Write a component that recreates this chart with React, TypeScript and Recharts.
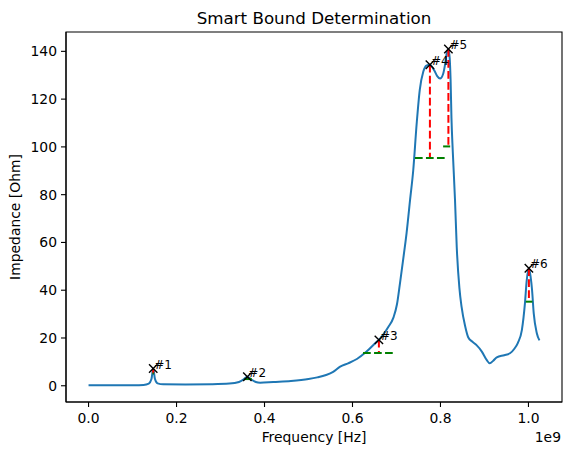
import {
  ComposedChart,
  Line,
  Scatter,
  XAxis,
  YAxis,
  ReferenceLine,
  ReferenceArea,
} from 'recharts'

const FONT = '"DejaVu Sans", sans-serif'

// frequency in units of 1e9 Hz
const freqGHz = [
  0, 0.05, 0.1, 0.125, 0.137, 0.143, 0.147, 0.151, 0.157, 0.17, 0.22, 0.28, 0.32, 0.342, 0.352, 0.361,
  0.37, 0.38, 0.39, 0.42, 0.46, 0.5, 0.52, 0.54, 0.556, 0.572, 0.59, 0.61, 0.632, 0.655, 0.66, 0.669,
  0.681, 0.693, 0.701, 0.708, 0.715, 0.723, 0.731, 0.738, 0.746, 0.753, 0.761, 0.768, 0.776, 0.786,
  0.793, 0.799, 0.806, 0.81, 0.814, 0.818, 0.821, 0.823, 0.825, 0.828, 0.833, 0.837, 0.843, 0.848,
  0.856, 0.863, 0.872, 0.882, 0.894, 0.905, 0.912, 0.92, 0.928, 0.945, 0.958, 0.968, 0.976, 0.985,
  0.992, 0.996, 1.001, 1.005, 1.008, 1.012, 1.019, 1.025,
]
const impedanceOhm = [
  0.2, 0.2, 0.25, 0.35, 0.9, 2.8, 7.2, 2.8, 1.0, 0.6, 0.55, 0.65, 0.9, 1.6, 2.6, 3.8,
  2.6, 1.6, 1.3, 1.6, 2.0, 2.8, 3.5, 4.5, 5.8, 8.0, 9.4, 11.2, 14.3, 18.4, 19.2, 21.2,
  24.5, 28.5, 34, 43, 52.6, 64, 78, 90, 110, 124, 131.6, 134.0, 134.4, 132,
  129.5, 128.6, 130.5, 134, 139, 141, 137, 128, 112, 98, 78, 58, 41, 33,
  25, 20.3, 18.5, 17, 14.3, 10.8, 9.4, 10.5, 11.9, 12.8, 13.6, 15.5, 18, 23.3,
  34.5, 44, 49.2, 45.5, 40.5, 30.3, 22, 19,
]

// detected peaks and their bounds
const peakNames = ['#1', '#2', '#3', '#4', '#5', '#6']
const peakFreq = [0.147, 0.361, 0.66, 0.776, 0.818, 1.001]
const peakImpedance = [7.2, 3.8, 19.2, 134.4, 141.0, 49.2]
const boundLevel = [5.1, 2.8, 13.7, 95.3, 100.2, 35.2]
const boundLow = [0.1455, 0.354, 0.624, 0.742, 0.806, 0.994]
const boundHigh = [0.1485, 0.371, 0.692, 0.81, 0.822, 1.009]

const xTicks = [0, 0.2, 0.4, 0.6, 0.8, 1.0]
const yTicks = [0, 20, 40, 60, 80, 100, 120, 140]
const xDomain: [number, number] = [-0.05125, 1.07625]
const yDomain: [number, number] = [-6.8, 148.1]

const curve = freqGHz.map((f, i) => ({ f, v: impedanceOhm[i] }))
const peaks = peakFreq.map((f, i) => ({ f, v: peakImpedance[i], name: peakNames[i] }))

const tickStyle = { fill: '#000', fontSize: 13.9, fontFamily: FONT }

function PeakMarker(props: any) {
  const { cx, cy, payload } = props
  const r = 4.2
  return (
    <g>
      <path
        d={`M${cx - r},${cy - r}L${cx + r},${cy + r}M${cx - r},${cy + r}L${cx + r},${cy - r}`}
        stroke="#000"
        strokeWidth={1.4}
        fill="none"
      />
      <text x={cx + 1} y={cy} fontSize={12} fontFamily={FONT} fill="#000">
        {payload.name}
      </text>
    </g>
  )
}

// title sits above the plot frame
function TitleLabel({ viewBox }: any) {
  return (
    <text x={viewBox.x + viewBox.width / 2} y={viewBox.y - 8} textAnchor="middle" fontSize={16.7} fontFamily={FONT} fill="#000">
      Smart Bound Determination
    </text>
  )
}

function XLabel({ viewBox }: any) {
  return (
    <g fontFamily={FONT} fontSize={13.9} fill="#000">
      <text x={viewBox.x + viewBox.width / 2} y={viewBox.y + 40} textAnchor="middle">
        Frequency [Hz]
      </text>
      <text x={viewBox.x + viewBox.width - 1} y={viewBox.y + 40} textAnchor="end">
        1e9
      </text>
    </g>
  )
}

function YLabel({ viewBox }: any) {
  const x = 20
  const y = viewBox.y + viewBox.height / 2
  return (
    <text x={x} y={y} transform={`rotate(-90, ${x}, ${y})`} textAnchor="middle" fontSize={13.9} fontFamily={FONT} fill="#000">
      Impedance [Ohm]
    </text>
  )
}

export default function App() {
  return (
    <div style={{ position: 'absolute', left: 0, top: 0, background: '#fff' }}>
      <ComposedChart width={571} height={455} margin={{ top: 32, right: 9, bottom: 0, left: 0 }}>
        <XAxis
          dataKey="f"
          type="number"
          domain={xDomain}
          allowDataOverflow
          ticks={xTicks}
          tickFormatter={(v: number) => v.toFixed(1)}
          tick={tickStyle}
          tickSize={5}
          tickMargin={6}
          height={53}
          axisLine={{ stroke: '#000', strokeWidth: 1.1 }}
          tickLine={{ stroke: '#000', strokeWidth: 1.1 }}
          label={<XLabel />}
        />
        <YAxis
          type="number"
          domain={yDomain}
          allowDataOverflow
          ticks={yTicks}
          tick={tickStyle}
          tickSize={5}
          tickMargin={4}
          width={66}
          axisLine={{ stroke: '#000', strokeWidth: 1.1 }}
          tickLine={{ stroke: '#000', strokeWidth: 1.1 }}
          label={<YLabel />}
        />
        <ReferenceArea
          x1={xDomain[0]}
          x2={xDomain[1]}
          y1={yDomain[0]}
          y2={yDomain[1]}
          ifOverflow="visible"
          fill="none"
          stroke="#000"
          strokeWidth={1.1}
          label={<TitleLabel />}
        />
        <Line
          data={curve}
          dataKey="v"
          type="monotone"
          stroke="#1f77b4"
          strokeWidth={2}
          dot={false}
          activeDot={false}
          isAnimationActive={false}
        />
        <Scatter data={peaks} dataKey="v" shape={<PeakMarker />} isAnimationActive={false} />
        {peakFreq.map((f, i) => (
          <ReferenceLine
            key={`r${i}`}
            segment={[{ x: f, y: peakImpedance[i] }, { x: f, y: boundLevel[i] }]}
            stroke="#ff0000"
            strokeWidth={2}
            strokeDasharray="7.7 3.3"
          />
        ))}
        {peakFreq.map((_, i) => (
          <ReferenceLine
            key={`g${i}`}
            segment={[{ x: boundLow[i], y: boundLevel[i] }, { x: boundHigh[i], y: boundLevel[i] }]}
            stroke="#008000"
            strokeWidth={2}
            strokeDasharray="7.7 3.3"
          />
        ))}
      </ComposedChart>
    </div>
  )
}
